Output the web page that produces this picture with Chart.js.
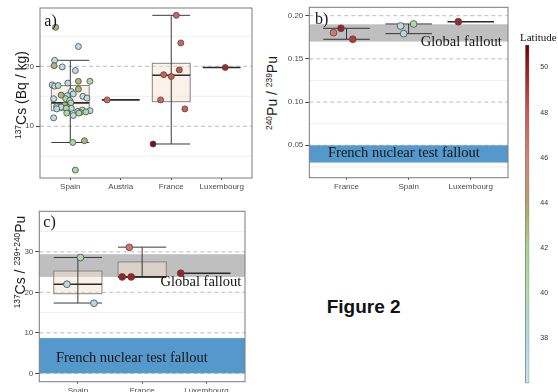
<!DOCTYPE html>
<html>
<head>
<meta charset="utf-8">
<script src="https://cdn.jsdelivr.net/npm/chart.js@4.4.1/dist/chart.umd.min.js"></script>
<style>
  html, body { margin: 0; padding: 0; background: #fff; }
  #fig { position: relative; width: 558px; height: 392px; overflow: hidden; font-family: "Liberation Sans", Arial, sans-serif; }
  canvas { position: absolute; }
  .ytitle { position: absolute; white-space: nowrap; font-size: 14px; line-height: 1; color: #1a1a1a;
            transform: translate(-50%, -50%) rotate(-90deg); z-index: 2; }
  .ytitle sup { font-size: 0.6em; vertical-align: 0.6em; line-height: 0; }
  .note { position: absolute; white-space: nowrap; line-height: 1; z-index: 2; }
</style>
</head>
<body>
<div id="fig">
  <canvas id="panelA" width="262" height="200" style="left:0;top:0"></canvas>
  <canvas id="panelB" width="235" height="200" style="left:280px;top:0"></canvas>
  <canvas id="panelC" width="262" height="192" style="left:0;top:200px"></canvas>
  <canvas id="latBar" width="53" height="362" style="left:505px;top:30px"></canvas>

  <div class="ytitle" style="left:20.5px;top:95px"><sup>137</sup>Cs (Bq / kg)</div>
  <div class="ytitle" style="left:272px;top:92.5px"><sup>240</sup>Pu / <sup>239</sup>Pu</div>
  <div class="ytitle" style="left:20px;top:262px"><sup>137</sup>Cs / <sup>239+240</sup>Pu</div>
  <div class="note" style="left:520px;top:31px;font:11px 'Liberation Serif', serif;color:#111">Latitude</div>
  <div class="note" style="left:326.7px;top:295.6px;font:bold 19px 'Liberation Sans', Arial, sans-serif;color:#111">Figure 2</div>
</div>

<script>
// colour scale for latitude
const latStops  = [36, 38, 40, 42, 44, 46, 48, 50, 51];
const latColors = ['#C8E4EE', '#B2DAE3', '#AEDDB0', '#A3D98C', '#B8A06C', '#DA8272', '#CF5A4D', '#9A1C1C', '#6E0000'];
const latTicks  = [38, 40, 42, 44, 46, 48, 50];

// a) 137Cs (Bq/kg)
const catsA = ['Spain', 'Austria', 'France', 'Luxembourg'];
const spainCs    = [26.5, 23.3, 21.0, 20.1, 19.9, 19.3, 16.9, 16.7, 16.8, 17.2, 17.5, 17.5, 16.2, 15.0, 14.7, 15.8, 15.4, 15.2, 15.1, 14.6, 14.6, 14.3, 13.55, 13.3, 13.2, 13.9, 13.1, 13.0, 12.9, 13.0, 12.5, 12.7, 12.6, 12.3, 12.4, 12.2, 12.2, 11.4, 11.8, 7.3, 7.6, 2.7];
const spainCsLat = [43.3, 37.5, 37.5, 43.3, 37.5, 37.5, 37.5, 37.5, 39, 37.5, 43.3, 41, 43.3, 37.5, 37.5, 37.5, 37.5, 43.3, 37.5, 41, 37.5, 38.5, 43.3, 41, 37.5, 41, 41, 37.5, 37.5, 41, 37.5, 37.5, 37.5, 41, 41, 41, 41, 37.5, 37.5, 41, 43.3, 41];
const spainCsJit = [-0.29, 0.16, -0.31, -0.32, -0.16, 0.10, -0.36, -0.31, -0.24, -0.05, 0.16, 0.39, 0.16, 0.25, 0.33, 0.02, 0.06, -0.18, -0.06, -0.09, -0.33, -0.01, -0.11, -0.27, -0.18, 0.01, -0.05, 0.02, -0.27, -0.08, 0.15, 0.24, 0.39, 0.20, 0.31, 0.17, -0.07, -0.33, 0.06, 0.05, 0.28, 0.10];
const otherCsCat = ['Austria', 'France', 'France', 'France', 'France', 'France', 'France', 'France', 'France', 'Luxembourg'];
const otherCs    = [14.4, 28.5, 23.9, 19.4, 18.6, 18.3, 14.4, 12.9, 7.05, 19.8];
const otherCsLat = [47.3, 47.4, 47.5, 48.2, 47.8, 48, 47.6, 47.8, 50.5, 49.6];
const otherCsJit = [-0.27, 0.10, 0.19, 0.16, -0.15, 0.0, -0.21, 0.27, -0.36, 0.07];
const boxA_q1  = [12.6, 14.4, 14.1, 19.8];
const boxA_med = [13.9, 14.4, 18.5, 19.8];
const boxA_q3  = [16.8, 14.4, 20.5, 19.8];
const boxA_lo  = [7.3, null, 7.05, null];
const boxA_hi  = [21.0, null, 28.5, null];

// b) 240Pu/239Pu
const catsB = ['France', 'Spain', 'Luxembourg'];
const ratioCat = ['France', 'France', 'France', 'Spain', 'Spain', 'Spain', 'Luxembourg'];
const ratioVal = [0.1803, 0.1854, 0.1727, 0.1881, 0.1904, 0.1792, 0.1930];
const ratioLat = [46.5, 49.8, 49.0, 37.5, 40.5, 38.0, 49.7];
const ratioJit = [-0.21, -0.09, 0.10, -0.13, 0.08, -0.08, -0.20];
const barB_lo  = [0.1727, 0.1792, null];
const barB_hi  = [0.1854, 0.1904, null];
const barB_mid = [null, null, 0.1930];
const globalB  = [0.17, 0.19];
const frenchB  = [0.03, 0.05];

// c) 137Cs / 239+240Pu
const catsC = ['Spain', 'France', 'Luxembourg'];
const csPuCat = ['Spain', 'Spain', 'Spain', 'France', 'France', 'France', 'Luxembourg'];
const csPuVal = [22.0, 28.6, 17.3, 23.8, 23.8, 31.1, 24.7];
const csPuLat = [38, 40.5, 38, 49.8, 49.8, 46.8, 49.8];
const csPuJit = [-0.17, 0.04, 0.25, -0.31, -0.17, -0.20, -0.40];
const boxC_q1  = [19.65, 23.8, 24.7];
const boxC_med = [22.0, 23.8, 24.7];
const boxC_q3  = [25.25, 27.5, 24.7];
const boxC_lo  = [17.35, 23.8, null];
const boxC_hi  = [28.6, 31.15, null];
const globalC  = [23.8, 29.4];
const frenchC  = [0, 8.7];

Chart.defaults.font.family = "'Liberation Sans', Arial, sans-serif";

function hexRgb(h) {
  return [1, 3, 5].map(i => parseInt(h.substr(i, 2), 16));
}

function latColor(lat) {
  let i = 0;
  while (i < latStops.length - 2 && lat > latStops[i + 1]) i++;
  const t = Math.max(0, Math.min(1, (lat - latStops[i]) / (latStops[i + 1] - latStops[i])));
  const a = hexRgb(latColors[i]), b = hexRgb(latColors[i + 1]);
  const c = a.map((v, k) => Math.round(v + (b[k] - v) * t));
  return `rgb(${c[0]},${c[1]},${c[2]})`;
}

function hline(ctx, x1, x2, py) {
  ctx.beginPath(); ctx.moveTo(x1, py); ctx.lineTo(x2, py); ctx.stroke();
}

// gridlines, bands, boxes, labels, frame
const panelDecor = {
  id: 'panelDecor',
  beforeDatasetsDraw(chart, args, o) {
    const { ctx, chartArea: a, scales: { x, y } } = chart;
    ctx.save();
    ctx.beginPath();
    ctx.rect(a.left, a.top, a.right - a.left, a.bottom - a.top);
    ctx.clip();

    ctx.lineWidth = 0.8;
    ctx.strokeStyle = '#EBEBEB';
    o.minor.forEach(v => hline(ctx, a.left, a.right, y.getPixelForValue(v)));
    ctx.strokeStyle = '#ABABAB';
    ctx.setLineDash([4, 3]);
    o.major.forEach(v => hline(ctx, a.left, a.right, y.getPixelForValue(v)));
    ctx.setLineDash([]);

    o.bands.forEach(b => {
      const y1 = y.getPixelForValue(b.range[1]), y2 = y.getPixelForValue(b.range[0]);
      ctx.fillStyle = b.color;
      ctx.fillRect(a.left, y1, a.right - a.left, y2 - y1);
    });

    const bx = o.box;
    bx.cats.forEach((c, i) => {
      const cx = x.getPixelForValue(i + 1);
      const hw = (x.getPixelForValue(i + 1 + bx.width / 2) - cx);
      const q1 = bx.q1 ? bx.q1[i] : null, q3 = bx.q3 ? bx.q3[i] : null;
      const med = bx.med[i], lo = bx.lo[i], hi = bx.hi[i];
      if (q1 != null && q3 != null && q3 > q1) {
        const t = y.getPixelForValue(q3), b = y.getPixelForValue(q1);
        ctx.fillStyle = 'rgba(246,228,210,0.5)';
        ctx.fillRect(cx - hw, t, 2 * hw, b - t);
        ctx.strokeStyle = '#858585';
        ctx.lineWidth = 1;
        ctx.strokeRect(cx - hw, t, 2 * hw, b - t);
      }
      if (lo != null && hi != null) {
        ctx.strokeStyle = bx.whiskerColor;
        ctx.lineWidth = 1;
        ctx.beginPath();
        ctx.moveTo(cx, y.getPixelForValue(lo));
        ctx.lineTo(cx, y.getPixelForValue(hi));
        ctx.stroke();
        hline(ctx, cx - hw, cx + hw, y.getPixelForValue(lo));
        hline(ctx, cx - hw, cx + hw, y.getPixelForValue(hi));
      }
      if (med != null) {
        ctx.strokeStyle = '#2b2b2b';
        ctx.lineWidth = 1.6;
        hline(ctx, cx - hw, cx + hw, y.getPixelForValue(med));
      }
    });
    ctx.restore();
  },
  afterDatasetsDraw(chart, args, o) {
    const { ctx, chartArea: a, scales: { x, y } } = chart;
    ctx.save();
    ctx.fillStyle = '#151515';
    ctx.textBaseline = 'alphabetic';
    o.texts.forEach(t => {
      ctx.font = '14.5px "Liberation Serif", serif';
      ctx.textAlign = t.align;
      ctx.fillText(t.text, x.getPixelForValue(t.x), y.getPixelForValue(t.y));
    });
    ctx.font = '16px "Liberation Serif", serif';
    ctx.textAlign = 'left';
    ctx.fillText(o.tag, a.left + o.tagPos[0], a.top + o.tagPos[1]);
    ctx.strokeStyle = '#7a7a7a';
    ctx.lineWidth = 1;
    ctx.strokeRect(a.left, a.top, a.right - a.left, a.bottom - a.top);
    ctx.restore();
  }
};

function buildPoints(cats, catList, vals, jit) {
  return vals.map((v, i) => ({ x: cats.indexOf(catList[i]) + 1 + jit[i], y: v }));
}

function makePanel(id, cfg) {
  return new Chart(document.getElementById(id), {
    type: 'scatter',
    data: {
      datasets: [{
        data: cfg.points,
        pointBackgroundColor: cfg.lats.map(latColor),
        pointBorderColor: '#4a4a4a',
        pointBorderWidth: 0.8,
        pointRadius: cfg.radius,
        showLine: false
      }]
    },
    options: {
      responsive: false,
      animation: false,
      layout: { padding: cfg.pad },
      plugins: { legend: { display: false }, tooltip: { enabled: false }, panelDecor: cfg.decor },
      scales: {
        x: {
          type: 'linear', min: 0.4, max: cfg.cats.length + 0.6,
          afterBuildTicks: s => { s.ticks = cfg.cats.map((c, i) => ({ value: i + 1 })); },
          afterFit: s => { s.height = cfg.xh; },
          ticks: { callback: v => cfg.cats[v - 1], autoSkip: false, maxRotation: 0, padding: 2, color: '#4d4d4d', font: { size: 8 } },
          grid: { drawOnChartArea: false, tickLength: 2, color: '#444' },
          border: { display: false }
        },
        y: {
          type: 'linear', min: cfg.yMin, max: cfg.yMax,
          afterBuildTicks: s => { s.ticks = cfg.decor.major.map(v => ({ value: v })); },
          afterFit: s => { s.width = cfg.yw; },
          ticks: { callback: cfg.fmt, padding: 2, color: '#4d4d4d', font: { size: 8 } },
          grid: { drawOnChartArea: false, tickLength: 4, color: '#444' },
          border: { display: false }
        }
      }
    },
    plugins: [panelDecor]
  });
}

makePanel('panelA', {
  cats: catsA,
  points: buildPoints(catsA, spainCs.map(() => 'Spain'), spainCs, spainCsJit)
    .concat(buildPoints(catsA, otherCsCat, otherCs, otherCsJit)),
  lats: spainCsLat.concat(otherCsLat),
  radius: 3,
  pad: { top: 8, right: 10, left: 0, bottom: 0 },
  xh: 22, yw: 40, yMin: 1.38, yMax: 29.72,
  fmt: v => v,
  decor: {
    major: [10, 20], minor: [5, 15, 25], bands: [],
    box: { cats: catsA, width: 0.75, q1: boxA_q1, med: boxA_med, q3: boxA_q3, lo: boxA_lo, hi: boxA_hi, whiskerColor: '#3a3a3a' },
    texts: [], tag: 'a)', tagPos: [4.3, 17.5]
  }
});

makePanel('panelB', {
  cats: catsB,
  points: buildPoints(catsB, ratioCat, ratioVal, ratioJit),
  lats: ratioLat,
  radius: 3.4,
  pad: { top: 7.3, right: 7, left: 0, bottom: 0 },
  xh: 22.3, yw: 29.3, yMin: 0.0125, yMax: 0.2097,
  fmt: v => v.toFixed(2),
  decor: {
    major: [0.05, 0.10, 0.15, 0.20], minor: [0.025, 0.075, 0.125, 0.175],
    bands: [{ range: globalB, color: '#BFBFBF' }, { range: frenchB, color: '#5599CC' }],
    box: { cats: catsB, width: 0.75, med: barB_mid, lo: barB_lo, hi: barB_hi, whiskerColor: '#333' },
    texts: [
      { text: 'Global fallout', x: 3.5, y: 0.1645, align: 'right' },
      { text: 'French nuclear test fallout', x: 1.924, y: 0.0368, align: 'center' }
    ],
    tag: 'b)', tagPos: [5.7, 16.2]
  }
});

makePanel('panelC', {
  cats: catsC,
  points: buildPoints(catsC, csPuCat, csPuVal, csPuJit),
  lats: csPuLat,
  radius: 3.4,
  pad: { top: 11.3, right: 17, left: 0, bottom: 0 },
  xh: 10.3, yw: 39.3, yMin: -2.07, yMax: 40,
  fmt: v => v,
  decor: {
    major: [0, 10, 20, 30], minor: [5, 15, 25, 35],
    bands: [{ range: globalC, color: '#BFBFBF' }, { range: frenchC, color: '#5599CC' }],
    box: { cats: catsC, width: 0.75, q1: boxC_q1, med: boxC_med, q3: boxC_q3, lo: boxC_lo, hi: boxC_hi, whiskerColor: '#3a3a3a' },
    texts: [
      { text: 'Global fallout', x: 3.544, y: 21.5, align: 'right' },
      { text: 'French nuclear test fallout', x: 1.84, y: 2.7, align: 'center' }
    ],
    tag: 'c)', tagPos: [4, 15.7]
  }
});

// latitude colour bar
new Chart(document.getElementById('latBar'), {
  type: 'bar',
  data: {
    labels: ['Latitude'],
    datasets: [{
      data: [[latStops[0], latStops[latStops.length - 1]]],
      backgroundColor: c => {
        const ch = c.chart;
        if (!ch.chartArea) return latColors[0];
        const ys = ch.scales.y;
        const g = ch.ctx.createLinearGradient(0, ys.getPixelForValue(latStops[0]), 0, ys.getPixelForValue(latStops[latStops.length - 1]));
        const span = latStops[latStops.length - 1] - latStops[0];
        latStops.forEach((v, i) => g.addColorStop((v - latStops[0]) / span, latColors[i]));
        return g;
      },
      borderColor: '#555',
      borderWidth: 0.8,
      borderSkipped: false,
      barPercentage: 1,
      categoryPercentage: 1
    }]
  },
  options: {
    responsive: false,
    animation: false,
    layout: { padding: { left: 20.3, top: 15, bottom: 8.7, right: 0 } },
    plugins: { legend: { display: false }, tooltip: { enabled: false } },
    scales: {
      x: { display: false },
      y: {
        position: 'right', min: latStops[0], max: latStops[latStops.length - 1],
        afterBuildTicks: s => { s.ticks = latTicks.map(v => ({ value: v })); },
        afterFit: s => { s.width = 28.7; },
        ticks: { padding: 3, color: '#333', font: { size: 7 } },
        grid: { display: false },
        border: { display: false }
      }
    }
  }
});
</script>
</body>
</html>
